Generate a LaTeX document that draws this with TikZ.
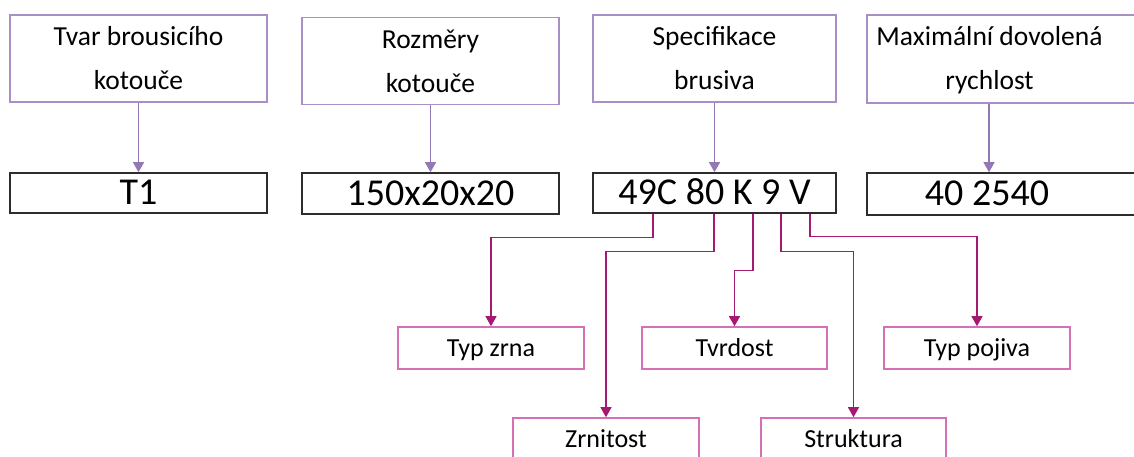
\documentclass[tikz,border=0pt]{standalone}
\usepackage{fontspec}
\setmainfont{Carlito}
\usetikzlibrary{arrows.meta}
\definecolor{topb}{RGB}{168,144,198}
\definecolor{arrp}{RGB}{146,120,180}
\definecolor{mag}{RGB}{165,25,115}
\definecolor{pinkb}{RGB}{214,112,182}
\definecolor{blk}{RGB}{45,45,45}
\tikzset{
  topbox/.style={draw=topb, line width=1.4pt, inner sep=0pt, align=center,
    font=\fontsize{27.5}{44}\selectfont},
  valbox/.style={draw=blk, line width=1.6pt, inner sep=0pt,
    text height=23pt, text depth=0pt,
    font=\fontsize{38}{40}\selectfont},
  subbox/.style={draw=pinkb, line width=1.6pt, inner sep=0pt,
    text height=16.5pt, text depth=0pt,
    font=\fontsize{26}{30}\selectfont},
  plain/.style={inner sep=0pt, align=center},
  parr/.style={draw=arrp, line width=1.2pt, -{Triangle[width=11pt,length=10pt]}},
  marr/.style={draw=mag, line width=1.2pt, -{Triangle[width=11pt,length=10pt]}}
}
\begin{document}
\begin{tikzpicture}[x=1pt,y=-1pt]
\useasboundingbox (0,0) rectangle (1134,457);
\clip (0,0) rectangle (1134,457);
\fill[white] (0,0) rectangle (1134,457);
% top boxes
\node[topbox, minimum width=257pt, minimum height=87pt] (A) at (138.5,58.5) {Tvar brousicího\\kotouče};
\node[topbox, minimum width=257pt, minimum height=87pt] (B) at (430.5,61) {Rozměry\\kotouče};
\node[topbox, minimum width=243pt, minimum height=87pt] (C) at (714.5,58.5) {Specifikace\\brusiva};
\node[topbox, minimum width=300pt, minimum height=88pt] (D) at (1017,59) {};
\node[plain, font=\fontsize{27.5}{44}\selectfont] (Dt) at (989.5,60) {Maximální dovolená\\rychlost};
% value boxes
\node[valbox, minimum width=257pt, minimum height=40pt] (Av) at (138.5,193) {T1};
\node[valbox, minimum width=257pt, minimum height=41pt] (Bv) at (430.5,193.5) {150x20x20};
\node[valbox, minimum width=243pt, minimum height=40pt] (Cv) at (714.5,193) {49C 80 K 9 V};
\node[valbox, minimum width=300pt, minimum height=42pt] (Dv) at (1017,194) {};
\node[plain, text height=23pt, text depth=0pt, font=\fontsize{38}{40}\selectfont] (Dvt) at (987,194) {40 2540};
% sub boxes
\node[subbox, minimum width=186pt, minimum height=42pt] (tz) at (491,348) {Typ zrna};
\node[subbox, minimum width=186pt, minimum height=42pt] (zr) at (606,439) {Zrnitost};
\node[subbox, minimum width=185pt, minimum height=42pt] (tv) at (734.5,348) {Tvrdost};
\node[subbox, minimum width=185pt, minimum height=42pt] (st) at (853.5,439) {Struktura};
\node[subbox, minimum width=186pt, minimum height=42pt] (tp) at (977,348) {Typ pojiva};
% purple arrows
\draw[parr] (A.south -| Av.north) -- (Av.north);
\draw[parr] (B.south -| Bv.north) -- (Bv.north);
\draw[parr] (C.south -| Cv.north) -- (Cv.north);
\coordinate (dx) at (989,0);
\draw[parr] (D.south -| dx) -- (Dv.north -| dx);
% magenta connectors
\coordinate (s1) at (653,0);
\coordinate (s2) at (714,0);
\coordinate (s3) at (753,0);
\coordinate (s4) at (781,0);
\coordinate (s5) at (810,0);
\draw[marr] (Cv.south -| s1) -- ++(0,24) -| (tz.north);
\draw[marr] (Cv.south -| s2) -- ++(0,38) -| (zr.north);
\draw[marr] (Cv.south -| s3) -- ++(0,57) -| (tv.north);
\draw[marr] (Cv.south -| s4) -- ++(0,38) -| (st.north);
\draw[marr] (Cv.south -| s5) -- ++(0,23) -| (tp.north);
\end{tikzpicture}
\end{document}
